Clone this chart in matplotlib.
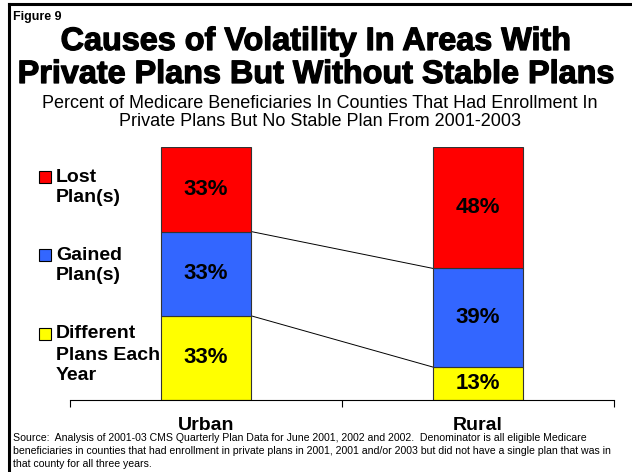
import numpy as np
import matplotlib.pyplot as plt
import matplotlib.patheffects as pe

plt.rcParams['font.family'] = ['Liberation Sans', 'DejaVu Sans']

# Data
areas = ['Urban', 'Rural']
series = [['Different', 'Plans Each', 'Year'], ['Gained', 'Plan(s)'], ['Lost', 'Plan(s)']]
different = [33.3, 13]
gained = [33.3, 39]
lost = [33.4, 48]
shown = [['33%', '13%'], ['33%', '39%'], ['33%', '48%']]
colors = ['#FFFF00', '#3366FF', '#FF0000']

fig = plt.figure(figsize=(6.32, 4.72), dpi=100)
W, H = 632, 472

# axes placed in pixel coords: x 70..614, y 147..400
ax = fig.add_axes([70 / W, (H - 400) / H, 544 / W, 253 / H])

x = np.arange(len(areas))
width = 0.33
vals = [different, gained, lost]
bottom = np.zeros(len(areas))
bounds = []
for i, v in enumerate(vals):
    v = np.array(v)
    ax.bar(x, v, width, bottom=bottom, color=colors[i], edgecolor='#333333', linewidth=0.8, zorder=2)
    for j in range(len(areas)):
        ax.text(x[j], bottom[j] + v[j] / 2, shown[i][j], ha='center', va='center',
                fontsize=16, fontweight='bold', zorder=3)
    bottom = bottom + v
    bounds.append(bottom.copy())

# connector lines between bars
for b in bounds[:2]:
    ax.plot([x[0] + width / 2, x[1] - width / 2], [b[0], b[1]], color='black', lw=0.7, zorder=1)

ax.set_xlim(-0.5, 1.5)
ax.set_ylim(0, 100)
ax.set_yticks([])
ax.set_xticks([-0.5, 0.5, 1.5])
ax.set_xticklabels([])
ax.tick_params(axis='x', length=5, width=0.8, direction='out')
for s in ['top', 'right', 'left']:
    ax.spines[s].set_visible(False)
ax.spines['bottom'].set_linewidth(0.8)
for j, a in enumerate(areas):
    xf = (70 + 272 * (x[j] + 0.5)) / W
    fig.text(xf, 1 - 426 / H, a, ha='center', va='center', fontsize=14, fontweight='bold')

# legend (manual, top entry first)
leg_y = [177, 255, 334]
for k, idx in enumerate([2, 1, 0]):
    y = leg_y[k]
    fig.patches.append(plt.Rectangle((39 / W, 1 - (y + 6) / H), 12 / W, 12 / H,
                                     facecolor=colors[idx], edgecolor='black', lw=0.8,
                                     transform=fig.transFigure))
    for n, line in enumerate(series[idx]):
        fig.text(56 / W, 1 - (y + 21 * n) / H, line, ha='left', va='center', fontsize=14,
                 fontweight='bold')

# frame lines on top and left
fig.add_artist(plt.Line2D([9 / W, 1], [1 - 4 / H, 1 - 4 / H], color='black', lw=2.2))
fig.add_artist(plt.Line2D([9 / W, 9 / W], [0, 1 - 4 / H], color='black', lw=2.2))

heavy = [pe.withStroke(linewidth=0.9, foreground='black')]
fig.text(13 / W, 1 - 17 / H, 'Figure 9', ha='left', va='center', fontsize=9, fontweight='bold')
fig.text(316 / W, 1 - 42 / H, 'Causes of Volatility In Areas With', ha='center', va='center',
         fontsize=23.3, fontweight='bold', path_effects=heavy)
fig.text(316 / W, 1 - 75 / H, 'Private Plans But Without Stable Plans', ha='center', va='center',
         fontsize=23.3, fontweight='bold', path_effects=heavy)
fig.text(320 / W, 1 - 104 / H, 'Percent of Medicare Beneficiaries In Counties That Had Enrollment In',
         ha='center', va='center', fontsize=13)
fig.text(320 / W, 1 - 122 / H, 'Private Plans But No Stable Plan From 2001-2003',
         ha='center', va='center', fontsize=13)

source = ['Source:  Analysis of 2001-03 CMS Quarterly Plan Data for June 2001, 2002 and 2002.  Denominator is all eligible Medicare',
          'beneficiaries in counties that had enrollment in private plans in 2001, 2001 and/or 2003 but did not have a single plan that was in',
          'that county for all three years.']
for n, line in enumerate(source):
    fig.text(13 / W, 1 - (438 + 13 * n) / H, line, ha='left', va='center', fontsize=7.6)

fig.savefig('out.png', dpi=100)
